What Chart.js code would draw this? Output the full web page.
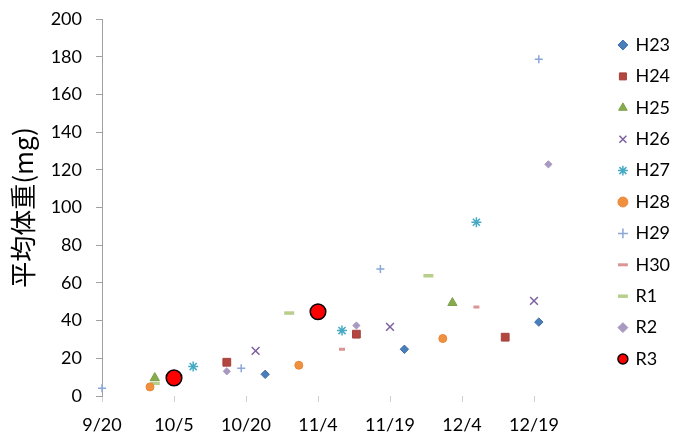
<!DOCTYPE html>
<html>
<head>
<meta charset="utf-8">
<script src="https://cdn.jsdelivr.net/npm/chart.js@4.4.0/dist/chart.umd.min.js"></script>
<style>
  html, body { margin: 0; padding: 0; background: #fff; }
</style>
</head>
<body>
<canvas id="chart" width="677" height="436"></canvas>
<script>
// x = days after 9/20, y = mean body weight (mg)
const xTickLabels = ['9/20', '10/5', '10/20', '11/4', '11/19', '12/4', '12/19'];

const H23 = [[34, 11.5], [63, 24.8], [91, 39.2]];
const H24 = [[26, 17.9], [53, 32.8], [84, 31.2]];
const H25 = [[11, 9.6], [73, 49.4]];
const H26 = [[32, 23.9], [60, 36.7], [90, 50.5]];
const H27 = [[19, 15.6], [50, 34.7], [78, 92.2]];
const H28 = [[10, 4.8], [41, 16.3], [71, 30.5]];
const H29 = [[0, 4.1], [29, 14.7], [58, 67.4], [91, 178.7]];
const H30 = [[50, 24.8], [78, 47.2]];
const R1 = [[11, 6.7], [39, 44.0], [68, 63.8]];
const R2 = [[26, 13.1], [53, 37.4], [93, 122.9]];
const R3 = [[15, 9.6], [45, 44.7]];

const font = { family: 'Lato', size: 18 };

function series(label, pts, style) {
  return Object.assign({
    label: label,
    data: pts.map(([x, y]) => ({ x: x, y: y })),
    clip: false,
    borderWidth: 1
  }, style);
}

const datasets = [
  series('H23', H23, { pointStyle: 'rectRot', pointRadius: 4.2, backgroundColor: '#4A7EBB', borderColor: '#3D6CA8' }),
  series('H24', H24, { pointStyle: 'rect', pointRadius: 5.5, backgroundColor: '#B3463F', borderColor: '#A5413E' }),
  series('H25', H25, { pointStyle: 'triangle', pointRadius: 5.3, backgroundColor: '#86AB4C', borderColor: '#7FA04A' }),
  series('H26', H26, { pointStyle: 'crossRot', pointRadius: 5.5, borderWidth: 1.5, backgroundColor: '#7D60A0', borderColor: '#7D60A0' }),
  series('H27', H27, { pointStyle: 'star', pointRadius: 5, borderWidth: 1.5, backgroundColor: '#46AAC5', borderColor: '#46AAC5' }),
  series('H28', H28, { pointStyle: 'circle', pointRadius: 4, backgroundColor: '#F08F3E', borderColor: '#E8883A' }),
  series('H29', H29, { pointStyle: 'cross', pointRadius: 4, borderWidth: 1.5, backgroundColor: '#8BA6D8', borderColor: '#8BA6D8' }),
  series('H30', H30, { pointStyle: 'line', pointRadius: 3, borderWidth: 3, backgroundColor: '#DA9694', borderColor: '#DA9694' }),
  series('R1', R1, { pointStyle: 'line', pointRadius: 5, borderWidth: 3.5, backgroundColor: '#B8CE8C', borderColor: '#B8CE8C' }),
  series('R2', R2, { pointStyle: 'rectRot', pointRadius: 3.6, backgroundColor: '#A899C0', borderColor: '#A899C0' }),
  series('R3', R3, { pointStyle: 'circle', pointRadius: 7.8, borderWidth: 1.5, backgroundColor: '#FF0000', borderColor: '#000000' })
];

new Chart(document.getElementById('chart'), {
  type: 'scatter',
  data: { datasets: datasets },
  options: {
    responsive: false,
    animation: false,
    events: [],
    layout: { padding: { top: 19, right: 0, bottom: 0, left: 0 } },
    plugins: {
      tooltip: { enabled: false },
      legend: {
        position: 'right',
        align: 'start',
        maxWidth: 71,
        // empty title only nudges the items down a little
        title: { display: true, text: '', padding: 0, font: { size: 3 } },
        labels: {
          usePointStyle: true,
          boxWidth: 7,
          boxHeight: 7,
          padding: 13.4,
          color: '#000',
          font: font
        }
      }
    },
    scales: {
      x: {
        type: 'linear',
        min: 0,
        max: 105,
        afterFit: (s) => { s.height = 40; },
        afterBuildTicks: (s) => { s.ticks = s.ticks.filter(t => t.value <= 90); },
        border: { display: false },
        grid: { drawOnChartArea: false, tickLength: 6, color: '#D0D0D0' },
        ticks: {
          stepSize: 15,
          padding: 12,
          autoSkip: false,
          maxRotation: 0,
          color: '#000',
          font: font,
          callback: (v) => xTickLabels[v / 15] ?? ''
        }
      },
      y: {
        min: 0,
        max: 200,
        afterFit: (s) => {
          s.width = 102;
          s.paddingTop = 0;
          s.paddingBottom = 0;
        },
        border: { display: true, color: '#A0A0A0' },
        grid: { drawOnChartArea: false, tickLength: 6, color: '#A0A0A0' },
        ticks: { stepSize: 20, padding: 14, color: '#000', font: font },
        title: {
          display: true,
          text: '平均体重(mg)',
          color: '#000',
          padding: { top: 8, bottom: 0 },
          font: { family: 'Noto Sans CJK JP', size: 26 }
        }
      }
    }
  }
});
</script>
</body>
</html>
